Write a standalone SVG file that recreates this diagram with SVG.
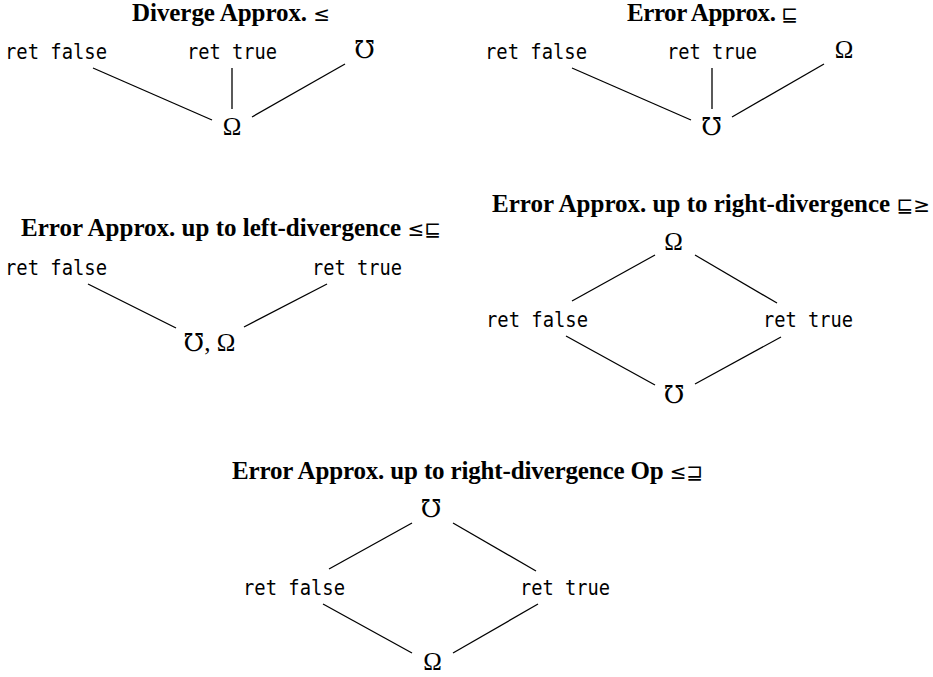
<svg xmlns="http://www.w3.org/2000/svg" width="933" height="677" viewBox="0 0 933 677">
<style>
.title{font-family:"Liberation Serif","DejaVu Serif",serif;font-weight:bold;font-size:25px;fill:#000}
.rel{font-weight:normal;font-family:"DejaVu Sans","Liberation Serif",sans-serif;font-size:20px}
.mono{font-family:"DejaVu Sans Mono","Liberation Mono",monospace;font-size:21px;fill:#000}
.sym{font-family:"Liberation Serif","DejaVu Serif",serif;font-size:25px;fill:#000;text-anchor:middle}
.edges line{stroke:#000;stroke-width:1.3}
</style>
<rect width="933" height="677" fill="#fff"/>
<g id="titles">
<text class="title" x="132" y="20.5" textLength="198" lengthAdjust="spacing">Diverge Approx. <tspan class="rel">≤</tspan></text>
<text class="title" x="627" y="20.5" textLength="171" lengthAdjust="spacing">Error Approx. <tspan class="rel">⊑</tspan></text>
<text class="title" x="21" y="236" textLength="420" lengthAdjust="spacing">Error Approx. up to left-divergence <tspan class="rel">≤⊑</tspan></text>
<text class="title" x="492" y="212" textLength="438" lengthAdjust="spacing">Error Approx. up to right-divergence <tspan class="rel">⊑≥</tspan></text>
<text class="title" x="232" y="479" textLength="471" lengthAdjust="spacing">Error Approx. up to right-divergence Op <tspan class="rel">≤⊒</tspan></text>
</g>
<g id="p1">
<g id="p1-false"><text class="mono" x="5" y="59" textLength="102" lengthAdjust="spacingAndGlyphs">ret false</text></g>
<g id="p1-true"><text class="mono" x="187" y="59" textLength="90" lengthAdjust="spacingAndGlyphs">ret true</text></g>
<g id="p1-mho"><text class="sym" x="364.5" y="58">℧</text></g>
<g id="p1-omega"><text class="sym" x="232" y="135">Ω</text></g>
</g>
<g id="p2">
<g id="p2-false"><text class="mono" x="485" y="59" textLength="102" lengthAdjust="spacingAndGlyphs">ret false</text></g>
<g id="p2-true"><text class="mono" x="667" y="59" textLength="90" lengthAdjust="spacingAndGlyphs">ret true</text></g>
<g id="p2-omega"><text class="sym" x="844" y="58">Ω</text></g>
<g id="p2-mho"><text class="sym" x="711.5" y="135">℧</text></g>
</g>
<g id="p3">
<g id="p3-false"><text class="mono" x="5" y="275" textLength="102" lengthAdjust="spacingAndGlyphs">ret false</text></g>
<g id="p3-true"><text class="mono" x="312" y="275" textLength="90" lengthAdjust="spacingAndGlyphs">ret true</text></g>
<g id="p3-bottom"><text class="sym" x="209.5" y="351">℧, Ω</text></g>
</g>
<g id="p4">
<g id="p4-omega"><text class="sym" x="673.5" y="250">Ω</text></g>
<g id="p4-false"><text class="mono" x="486" y="327" textLength="102" lengthAdjust="spacingAndGlyphs">ret false</text></g>
<g id="p4-true"><text class="mono" x="763" y="327" textLength="90" lengthAdjust="spacingAndGlyphs">ret true</text></g>
<g id="p4-mho"><text class="sym" x="674" y="403">℧</text></g>
</g>
<g id="p5">
<g id="p5-mho"><text class="sym" x="431" y="517">℧</text></g>
<g id="p5-false"><text class="mono" x="243" y="595" textLength="102" lengthAdjust="spacingAndGlyphs">ret false</text></g>
<g id="p5-true"><text class="mono" x="520" y="595" textLength="90" lengthAdjust="spacingAndGlyphs">ret true</text></g>
<g id="p5-omega"><text class="sym" x="432.5" y="670">Ω</text></g>
</g>
<g id="connectors" class="edges">
<line x1="93" y1="68" x2="212" y2="120"/>
<line x1="232" y1="68" x2="232" y2="109"/>
<line x1="345" y1="64" x2="252" y2="117"/>
<line x1="572" y1="68" x2="691" y2="120"/>
<line x1="712" y1="68" x2="712" y2="109"/>
<line x1="824" y1="64" x2="732" y2="117"/>
<line x1="88" y1="284" x2="176" y2="328"/>
<line x1="327" y1="284" x2="244" y2="327"/>
<line x1="655" y1="255" x2="572" y2="301"/>
<line x1="695" y1="255" x2="777" y2="303"/>
<line x1="566" y1="336" x2="655" y2="385"/>
<line x1="781" y1="337" x2="695" y2="384"/>
<line x1="412" y1="523" x2="329" y2="569"/>
<line x1="453" y1="523" x2="536" y2="571"/>
<line x1="323" y1="604" x2="412" y2="653"/>
<line x1="538" y1="604" x2="453" y2="653"/>
</g>
</svg>
